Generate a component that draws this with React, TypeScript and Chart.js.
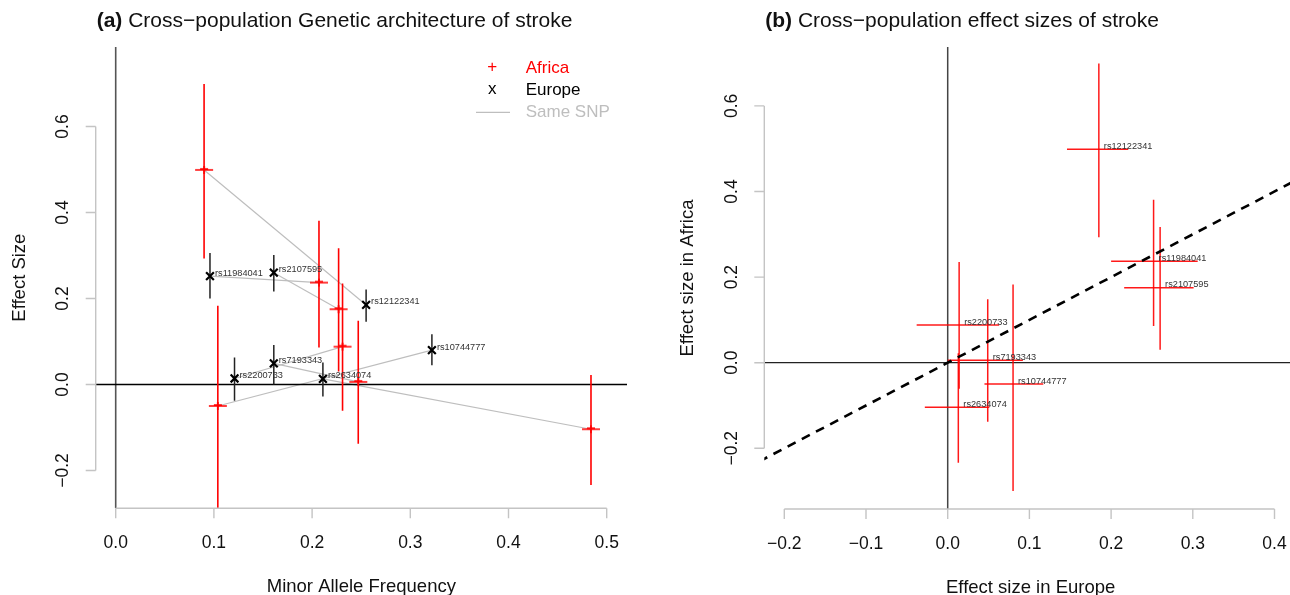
import { useEffect, useRef } from 'react';
import { Chart, registerables } from 'chart.js';

Chart.register(...registerables);

// ---------------- data ----------------
const SNPS = ['rs12122341', 'rs11984041', 'rs2107595', 'rs2200733', 'rs7193343', 'rs2634074', 'rs10744777'];

const EUR_MAF = [0.255, 0.096, 0.161, 0.121, 0.161, 0.211, 0.322];
const EUR_BETA = [0.185, 0.252, 0.26, 0.014, 0.049, 0.013, 0.08];
const EUR_LO = [0.146, 0.2, 0.216, -0.038, 0.0, -0.028, 0.045];
const EUR_HI = [0.221, 0.306, 0.301, 0.063, 0.092, 0.051, 0.117];

const AFR_MAF = [0.09, 0.207, 0.227, 0.231, 0.247, 0.484, 0.104];
const AFR_BETA = [0.499, 0.237, 0.175, 0.088, 0.006, -0.104, -0.05];
const AFR_LO = [0.293, 0.086, 0.03, -0.061, -0.138, -0.234, -0.3];
const AFR_HI = [0.699, 0.381, 0.317, 0.235, 0.148, 0.022, 0.183];

const LEFT_X_TICKS = [0, 0.1, 0.2, 0.3, 0.4, 0.5];
const LEFT_Y_TICKS = [-0.2, 0, 0.2, 0.4, 0.6];
const RIGHT_X_TICKS = [-0.2, -0.1, 0, 0.1, 0.2, 0.3, 0.4];
const RIGHT_Y_TICKS = [-0.2, 0, 0.2, 0.4, 0.6];
const DIAGONAL = [-0.3, 0.5];

const LEGEND_LABELS = ['Africa', 'Europe', 'Same SNP'];

// ---------------- layout ----------------
const CANVAS_W = 1300;
const CANVAS_H = 595;
const FONT = '"Liberation Sans", Arial, Helvetica, sans-serif';

const LEFT_LAYOUT = { left: 95.7, right: 627, top: 47, bottom: 508.3 };
const LEFT_RANGE = { xMin: -0.020367, xMax: 0.52067, yMin: -0.28791, yMax: 0.78488 };
const RIGHT_LAYOUT = { left: 764.3, right: 1297, top: 47, bottom: 509 };
const RIGHT_RANGE = { xMin: -0.22448, xMax: 0.42754, yMin: -0.34182, yMax: 0.73762 };

const RED = '#FF0000';
const GRAY = '#BEBEBE';

function fmt(v: number): string {
  const s = Math.abs(v).toFixed(1);
  return v < -1e-9 ? '\u2212' + s : s;
}

function rAxesPlugin(o: {
  id: string;
  xTicks: number[];
  yTicks: number[];
  xTitle: string;
  yTitle: string;
  titleBold: string;
  titleRest: string;
}) {
  return {
    id: o.id,
    afterDraw(chart: any) {
      const { ctx, chartArea: ca, scales } = chart;
      const xs = scales.x;
      const ys = scales.y;
      ctx.save();
      ctx.strokeStyle = '#C4C4C4';
      ctx.lineWidth = 1.4;
      // x axis
      const xa = xs.getPixelForValue(o.xTicks[0]);
      const xb = xs.getPixelForValue(o.xTicks[o.xTicks.length - 1]);
      ctx.beginPath();
      ctx.moveTo(xa, ca.bottom);
      ctx.lineTo(xb, ca.bottom);
      o.xTicks.forEach((t) => {
        const p = xs.getPixelForValue(t);
        ctx.moveTo(p, ca.bottom);
        ctx.lineTo(p, ca.bottom + 10);
      });
      // y axis
      const ya = ys.getPixelForValue(o.yTicks[0]);
      const yb = ys.getPixelForValue(o.yTicks[o.yTicks.length - 1]);
      ctx.moveTo(ca.left, ya);
      ctx.lineTo(ca.left, yb);
      o.yTicks.forEach((t) => {
        const p = ys.getPixelForValue(t);
        ctx.moveTo(ca.left, p);
        ctx.lineTo(ca.left - 10, p);
      });
      ctx.stroke();

      ctx.fillStyle = '#111';
      ctx.font = `17.5px ${FONT}`;
      ctx.textAlign = 'center';
      ctx.textBaseline = 'middle';
      o.xTicks.forEach((t) => {
        ctx.fillText(fmt(t), xs.getPixelForValue(t), ca.bottom + 35);
      });
      o.yTicks.forEach((t) => {
        ctx.save();
        ctx.translate(ca.left - 32.6, ys.getPixelForValue(t));
        ctx.rotate(-Math.PI / 2);
        ctx.fillText(fmt(t), 0, 0);
        ctx.restore();
      });

      // axis titles
      ctx.font = `18.5px ${FONT}`;
      ctx.fillText(o.xTitle, (ca.left + ca.right) / 2, ca.bottom + 79);
      ctx.save();
      ctx.translate(ca.left - 76, (ca.top + ca.bottom) / 2);
      ctx.rotate(-Math.PI / 2);
      ctx.fillText(o.yTitle, 0, 0);
      ctx.restore();

      // main title
      ctx.textAlign = 'left';
      ctx.font = `bold 21px ${FONT}`;
      ctx.fillText(o.titleBold, ca.left + 1, 21.7);
      const w = ctx.measureText(o.titleBold).width;
      ctx.font = `21px ${FONT}`;
      ctx.fillText(o.titleRest, ca.left + 1 + w, 21.7);
      ctx.restore();
    },
  };
}

function labelsPlugin(id: string, xs: number[], ys: number[]) {
  return {
    id,
    afterDatasetsDraw(chart: any) {
      const { ctx, scales } = chart;
      ctx.save();
      ctx.fillStyle = '#333';
      ctx.font = `9.2px ${FONT}`;
      ctx.textAlign = 'left';
      ctx.textBaseline = 'middle';
      SNPS.forEach((s, i) => {
        const px = scales.x.getPixelForValue(xs[i]);
        const py = scales.y.getPixelForValue(ys[i]);
        ctx.fillText(s, px + 5, py - 3);
      });
      ctx.restore();
    },
  };
}

const legendPlugin = {
  id: 'rLegend',
  afterDraw(chart: any) {
    const { ctx } = chart;
    ctx.save();
    ctx.textBaseline = 'middle';
    ctx.font = `17px ${FONT}`;
    // Africa
    ctx.textAlign = 'center';
    ctx.fillStyle = RED;
    ctx.fillText('+', 492.3, 67.5);
    ctx.textAlign = 'left';
    ctx.fillText(LEGEND_LABELS[0], 525.7, 68.5);
    // Europe
    ctx.textAlign = 'center';
    ctx.fillStyle = '#000';
    ctx.fillText('x', 492.3, 89.5);
    ctx.textAlign = 'left';
    ctx.fillText(LEGEND_LABELS[1], 525.7, 90.5);
    // Same SNP
    ctx.strokeStyle = GRAY;
    ctx.lineWidth = 1.3;
    ctx.beginPath();
    ctx.moveTo(476, 112.3);
    ctx.lineTo(510, 112.3);
    ctx.stroke();
    ctx.fillStyle = GRAY;
    ctx.fillText(LEGEND_LABELS[2], 525.7, 112);
    ctx.restore();
  },
};

function makeAfricaMarker(): HTMLCanvasElement {
  const c = document.createElement('canvas');
  c.width = 20;
  c.height = 10;
  const g = c.getContext('2d')!;
  g.strokeStyle = RED;
  g.lineWidth = 1.6;
  g.beginPath();
  g.moveTo(1, 5);
  g.lineTo(19, 5);
  g.moveTo(10, 1);
  g.lineTo(10, 9);
  g.moveTo(6, 4);
  g.lineTo(14, 4);
  g.stroke();
  return c;
}

function seg(x1: number, y1: number, x2: number, y2: number, color: string, width: number, order: number, extra: any = {}) {
  return {
    data: [
      { x: x1, y: y1 },
      { x: x2, y: y2 },
    ],
    showLine: true,
    borderColor: color,
    backgroundColor: color,
    borderWidth: width,
    pointRadius: 0,
    tension: 0,
    order,
    ...extra,
  };
}

export default function App() {
  const leftRef = useRef<HTMLCanvasElement>(null);
  const rightRef = useRef<HTMLCanvasElement>(null);

  useEffect(() => {
    document.body.style.margin = '0';
    const marker = makeAfricaMarker();

    // ---------- left chart ----------
    const leftDatasets: any[] = [];
    SNPS.forEach((_, i) => {
      leftDatasets.push(seg(EUR_MAF[i], EUR_BETA[i], AFR_MAF[i], AFR_BETA[i], GRAY, 1.2, 30));
    });
    leftDatasets.push(seg(LEFT_RANGE.xMin, 0, LEFT_RANGE.xMax, 0, '#000', 1.3, 28));
    leftDatasets.push(seg(0, LEFT_RANGE.yMin, 0, LEFT_RANGE.yMax, '#555', 1.6, 28));
    SNPS.forEach((_, i) => {
      leftDatasets.push(seg(EUR_MAF[i], EUR_LO[i], EUR_MAF[i], EUR_HI[i], '#222', 1.5, 20));
      leftDatasets.push(seg(AFR_MAF[i], AFR_LO[i], AFR_MAF[i], AFR_HI[i], RED, 1.6, 20));
    });
    leftDatasets.push({
      data: AFR_MAF.map((x, i) => ({ x, y: AFR_BETA[i] })),
      pointStyle: marker,
      pointRadius: 5,
      showLine: false,
      order: 5,
    });
    leftDatasets.push({
      data: EUR_MAF.map((x, i) => ({ x, y: EUR_BETA[i] })),
      pointStyle: 'crossRot',
      pointRadius: 5.5,
      borderWidth: 2.2,
      borderColor: '#000',
      backgroundColor: '#000',
      showLine: false,
      order: 4,
    });

    const common = (layout: any, range: any) => ({
      responsive: false,
      animation: false as const,
      events: [] as any[],
      devicePixelRatio: 1,
      layout: {
        padding: {
          left: layout.left,
          right: CANVAS_W - layout.right,
          top: layout.top,
          bottom: CANVAS_H - layout.bottom,
        },
      },
      plugins: { legend: { display: false }, tooltip: { enabled: false } },
      scales: {
        x: { type: 'linear' as const, min: range.xMin, max: range.xMax, display: false },
        y: { type: 'linear' as const, min: range.yMin, max: range.yMax, display: false },
      },
    });

    const left = new Chart(leftRef.current!, {
      type: 'scatter',
      data: { datasets: leftDatasets },
      options: common(LEFT_LAYOUT, LEFT_RANGE) as any,
      plugins: [
        rAxesPlugin({
          id: 'axesL',
          xTicks: LEFT_X_TICKS,
          yTicks: LEFT_Y_TICKS,
          xTitle: 'Minor Allele Frequency',
          yTitle: 'Effect Size',
          titleBold: '(a)',
          titleRest: ' Cross\u2212population Genetic architecture of stroke',
        }),
        labelsPlugin('labelsL', EUR_MAF, EUR_BETA),
        legendPlugin,
      ],
    });

    // ---------- right chart ----------
    const rightDatasets: any[] = [];
    rightDatasets.push(seg(RIGHT_RANGE.xMin, 0, RIGHT_RANGE.xMax, 0, '#222', 1.3, 28));
    rightDatasets.push(seg(0, RIGHT_RANGE.yMin, 0, RIGHT_RANGE.yMax, '#444', 1.5, 28));
    SNPS.forEach((_, i) => {
      rightDatasets.push(seg(EUR_LO[i], AFR_BETA[i], EUR_HI[i], AFR_BETA[i], 'rgba(255,0,0,0.9)', 1.5, 20));
      rightDatasets.push(seg(EUR_BETA[i], AFR_LO[i], EUR_BETA[i], AFR_HI[i], 'rgba(255,0,0,0.9)', 1.5, 20));
    });
    rightDatasets.push(
      seg(DIAGONAL[0], DIAGONAL[0], DIAGONAL[1], DIAGONAL[1], '#000', 2.6, 2, { borderDash: [9, 7] })
    );

    const right = new Chart(rightRef.current!, {
      type: 'scatter',
      data: { datasets: rightDatasets },
      options: common(RIGHT_LAYOUT, RIGHT_RANGE) as any,
      plugins: [
        rAxesPlugin({
          id: 'axesR',
          xTicks: RIGHT_X_TICKS,
          yTicks: RIGHT_Y_TICKS,
          xTitle: 'Effect size in Europe',
          yTitle: 'Effect size in Africa',
          titleBold: '(b)',
          titleRest: ' Cross\u2212population effect sizes of stroke',
        }),
        labelsPlugin('labelsR', EUR_BETA, AFR_BETA),
      ],
    });

    return () => {
      left.destroy();
      right.destroy();
    };
  }, []);

  const cstyle: React.CSSProperties = {
    position: 'absolute',
    left: 0,
    top: 0,
    width: CANVAS_W,
    height: CANVAS_H,
  };

  return (
    <div style={{ position: 'relative', width: 1290, height: 595, overflow: 'hidden', background: '#fff' }}>
      <canvas ref={leftRef} width={CANVAS_W} height={CANVAS_H} style={cstyle} />
      <canvas ref={rightRef} width={CANVAS_W} height={CANVAS_H} style={cstyle} />
    </div>
  );
}
